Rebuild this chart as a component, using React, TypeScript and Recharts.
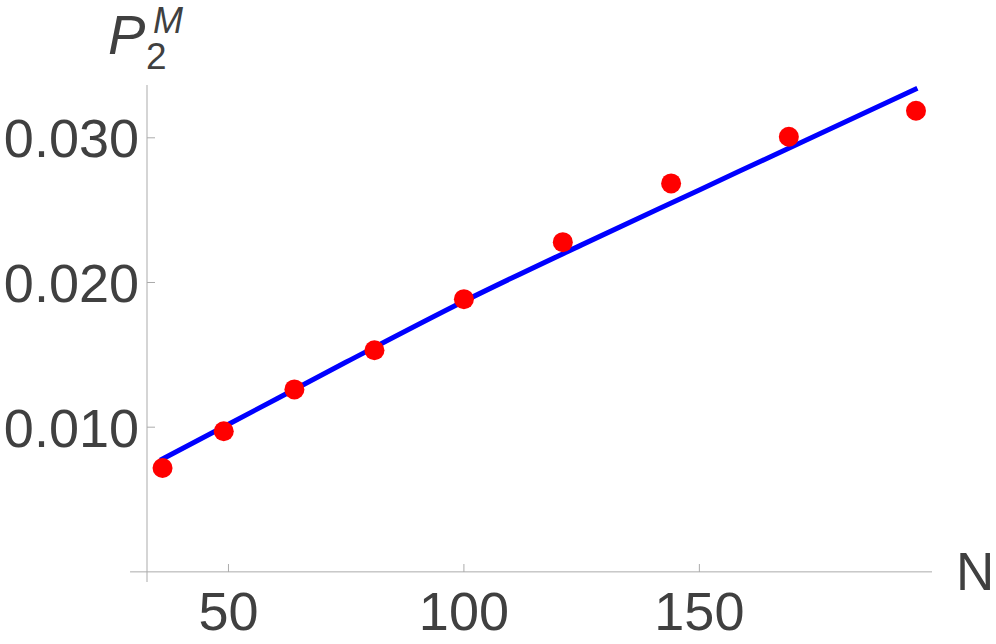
import { ComposedChart, Line, Scatter, XAxis, YAxis, ReferenceLine } from "recharts";

// measured points (N = square numbers)
const sizes = [36, 49, 64, 81, 100, 121, 144, 169, 196];
const probs = [0.00718, 0.00972, 0.01261, 0.01532, 0.01885, 0.02279, 0.02685, 0.03007, 0.03187];

// fitted curve
const fitN = [35.5, 50, 75, 100, 125, 150, 175, 196.3];
const fitP = [0.00772, 0.0102, 0.0145, 0.0187, 0.0226, 0.0264, 0.0302, 0.03342];

const xTicks = [50, 100, 150];
const yTicks = [0.01, 0.02, 0.03];

const points = sizes.map((n, i) => ({ n, p: probs[i] }));
const fit = fitN.map((n, i) => ({ n, fit: fitP[i] }));

const FONT = "'Liberation Sans', Arial, sans-serif";
const TEXT = "#404040";
const AXIS = "#ababab";

function YTick(props: any) {
  const { x, y, payload } = props;
  return (
    <g>
      <line x1={x} x2={x + 8} y1={y} y2={y} stroke={AXIS} strokeWidth={1} />
      <text x={x - 8} y={y} dy="0.36em" textAnchor="end" fontSize={54} fill={TEXT} fontFamily={FONT}>
        {payload.value.toFixed(3)}
      </text>
    </g>
  );
}

function XTick(props: any) {
  const { x, y, payload } = props;
  return (
    <g>
      <line x1={x} x2={x} y1={y - 10} y2={y - 18} stroke={AXIS} strokeWidth={1} />
      <text x={x} y={y + 48} textAnchor="middle" fontSize={54} fill={TEXT} fontFamily={FONT}>
        {payload.value}
      </text>
    </g>
  );
}

export default function App() {
  return (
    <div style={{ position: "absolute", left: 0, top: 0, width: 996, height: 644, background: "#fff" }}>
      <ComposedChart width={996} height={644} data={fit} margin={{ top: 85, right: 64, bottom: 0, left: 0 }}>
        <XAxis
          type="number"
          dataKey="n"
          domain={[32.7, 199.4]}
          ticks={xTicks}
          allowDataOverflow
          height={62}
          axisLine={false}
          tickLine={false}
          tickSize={0}
          tickMargin={0}
          tick={<XTick />}
        />
        <YAxis
          type="number"
          domain={[-0.0007, 0.03365]}
          ticks={yTicks}
          allowDataOverflow
          width={147}
          axisLine={{ stroke: AXIS, strokeWidth: 1 }}
          tickLine={false}
          tickSize={0}
          tickMargin={0}
          tick={<YTick />}
        />
        <ReferenceLine
          segment={[{ x: 29.1, y: 0 }, { x: 199.4, y: 0 }]}
          ifOverflow="visible"
          stroke={AXIS}
          strokeWidth={1}
        />
        <Scatter
          data={points}
          dataKey="p"
          isAnimationActive={false}
          shape={(p: any) => <circle cx={p.cx} cy={p.cy} r={10} fill="#ff0000" />}
        />
        <Line
          type="monotone"
          dataKey="fit"
          stroke="#0000ff"
          strokeWidth={5}
          dot={false}
          activeDot={false}
          isAnimationActive={false}
        />
      </ComposedChart>
      <svg width={996} height={644} style={{ position: "absolute", left: 0, top: 0, pointerEvents: "none" }}>
        <text x={108} y={54} fontSize={56} fontStyle="italic" fill={TEXT} fontFamily={FONT}>P</text>
        <text x={153} y={33} fontSize={36} fontStyle="italic" fill={TEXT} fontFamily={FONT}>M</text>
        <text x={146} y={69} fontSize={37} fill={TEXT} fontFamily={FONT}>2</text>
        <text x={956} y={590} fontSize={53} fill={TEXT} fontFamily={FONT}>N</text>
      </svg>
    </div>
  );
}
